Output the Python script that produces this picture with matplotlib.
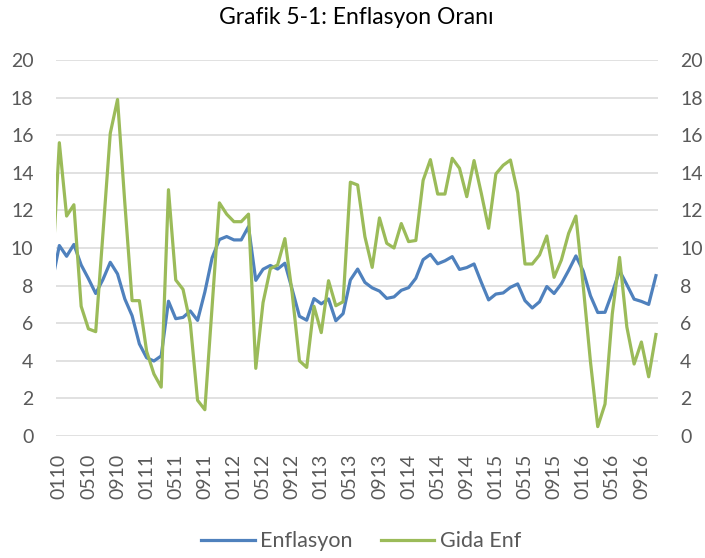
import matplotlib.pyplot as plt

plt.rcParams['font.family'] = ['Lato', 'DejaVu Sans']

# month codes MMYY, chart starts one month before the first visible label
months = ['1209'] + ['%02d%02d' % (m, y) for y in range(10, 17) for m in range(1, 13)][:83]

enflasyon = [8.19, 10.13, 9.56, 10.19, 9.10, 8.37, 7.58, 8.33, 9.24, 8.62, 7.29, 6.40,
             4.90, 4.16, 3.99, 4.26, 7.17, 6.24, 6.31, 6.65, 6.15, 7.66, 9.48, 10.45,
             10.61, 10.43, 10.43, 11.14, 8.28, 8.87, 9.07, 8.88, 9.19, 7.80, 6.37, 6.16,
             7.31, 7.03, 7.29, 6.13, 6.51, 8.30, 8.88, 8.17, 7.88, 7.71, 7.32, 7.40,
             7.75, 7.89, 8.39, 9.38, 9.66, 9.16, 9.32, 9.54, 8.86, 8.96, 9.15, 8.17,
             7.24, 7.55, 7.61, 7.91, 8.09, 7.20, 6.81, 7.14, 7.95, 7.58, 8.10, 8.81,
             9.58, 8.78, 7.46, 6.57, 6.58, 7.64, 8.79, 8.05, 7.28, 7.16, 7.00, 8.53]

gida_enf = [8.5, 15.6, 11.7, 12.3, 6.9, 5.7, 5.55, 10.8, 16.1, 17.9, 12.4, 7.2,
            7.2, 4.5, 3.3, 2.6, 13.1, 8.3, 7.8, 6.0, 1.9, 1.4, 6.9, 12.4,
            11.8, 11.4, 11.4, 11.8, 3.6, 7.1, 8.9, 9.1, 10.5, 7.6, 4.0, 3.65,
            6.9, 5.5, 8.26, 6.93, 7.14, 13.5, 13.35, 10.6, 8.97, 11.6, 10.25, 10.0,
            11.3, 10.34, 10.4, 13.6, 14.7, 12.87, 12.87, 14.77, 14.24, 12.73, 14.65, 12.9,
            11.05, 13.94, 14.4, 14.68, 12.94, 9.15, 9.15, 9.63, 10.64, 8.44, 9.36, 10.78,
            11.7, 8.0, 3.95, 0.5, 1.7, 6.5, 9.5, 5.8, 3.83, 5.0, 3.15, 5.4]

text_col = '#595959'

fig = plt.figure(figsize=(7.05, 5.58), dpi=100)
ax = fig.add_axes([0.079, 0.2186, 0.854, 0.6739])

x = list(range(len(months)))
ax.plot(x, enflasyon, color='#4F81BD', lw=2.3, label='Enflasyon', solid_joinstyle='round')
ax.plot(x, gida_enf, color='#9BBB59', lw=2.3, label='Gida Enf', solid_joinstyle='round')

ax.set_ylim(0, 20)
ax.set_yticks(range(0, 21, 2))
ax.set_xlim(0.5, 83.25)
ax.set_xticks(x[1::4])
ax.set_xticklabels(months[1::4], rotation=90)

ax.grid(axis='y', color='#D9D9D9', lw=1.1)
ax.set_axisbelow(True)
for s in ax.spines.values():
    s.set_visible(False)
ax.tick_params(axis='y', length=0, pad=16, labelsize=14, labelcolor=text_col,
               labelright=True)
ax.tick_params(axis='x', length=0, pad=13, labelsize=14, labelcolor=text_col)

fig.text(0.505, 1 - 18 / 558, 'Grafik 5-1: Enflasyon Oranı', ha='center', va='center',
         fontsize=16.5, color='black')

fig.legend(loc='center', bbox_to_anchor=(0.512, 0.03), ncol=2, frameon=False,
           fontsize=15.5, handlelength=2.5, handletextpad=0.25, columnspacing=1.3,
           labelcolor=text_col)

fig.savefig('out.png', dpi=100)
